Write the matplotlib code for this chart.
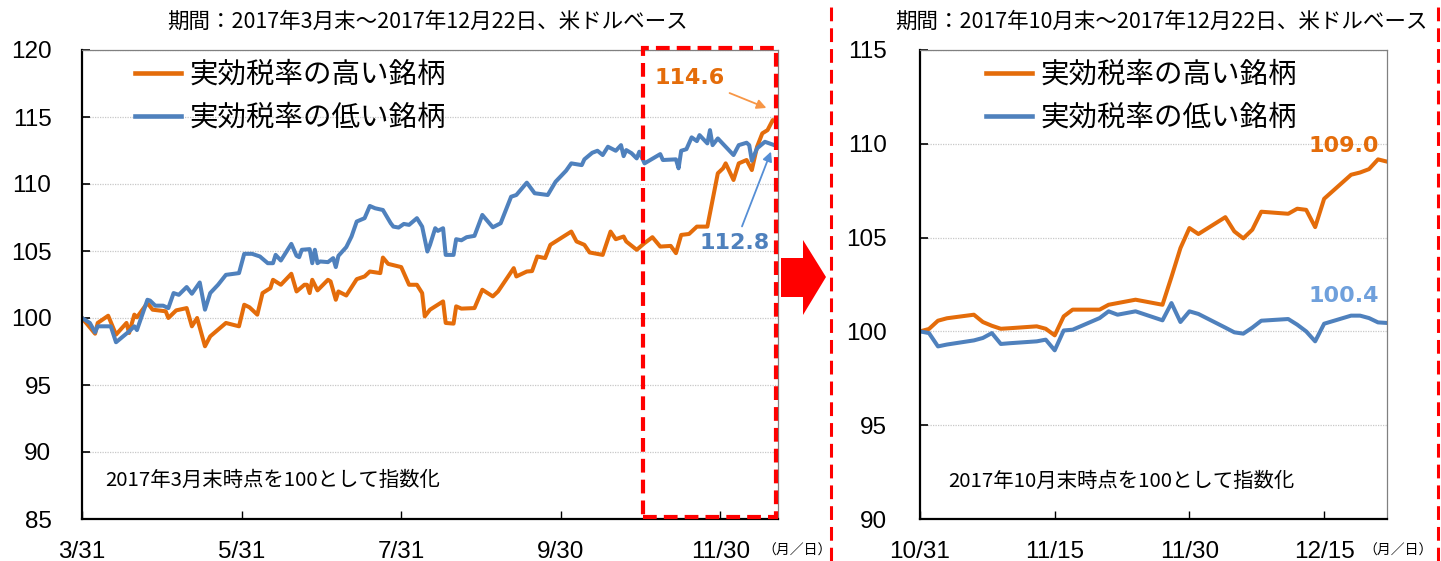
import matplotlib
matplotlib.use('Agg')
import matplotlib.pyplot as plt
import numpy as np
from matplotlib import font_manager
from matplotlib.patches import Rectangle, Polygon, FancyArrowPatch
from matplotlib.lines import Line2D

# ---------------- data ----------------
series_names = ['実効税率の高い銘柄', '実効税率の低い銘柄']

left_high_dates = [
    '2017-03-31', '2017-04-05', '2017-04-06', '2017-04-10', '2017-04-13', '2017-04-17', '2017-04-18',
    '2017-04-20', '2017-04-21', '2017-04-25', '2017-04-27', '2017-05-02', '2017-05-03', '2017-05-06',
    '2017-05-10', '2017-05-12', '2017-05-14', '2017-05-17', '2017-05-19', '2017-05-25', '2017-05-30',
    '2017-06-01', '2017-06-03', '2017-06-06', '2017-06-08', '2017-06-11', '2017-06-12', '2017-06-15',
    '2017-06-19', '2017-06-21', '2017-06-24', '2017-06-25', '2017-06-26', '2017-06-27', '2017-06-29',
    '2017-07-03', '2017-07-04', '2017-07-06', '2017-07-07', '2017-07-10', '2017-07-14', '2017-07-17',
    '2017-07-19', '2017-07-23', '2017-07-24', '2017-07-26', '2017-07-31', '2017-08-03', '2017-08-06',
    '2017-08-08', '2017-08-09', '2017-08-11', '2017-08-16', '2017-08-17', '2017-08-20', '2017-08-21',
    '2017-08-23', '2017-08-28', '2017-08-31', '2017-09-04', '2017-09-06', '2017-09-12', '2017-09-13',
    '2017-09-17', '2017-09-19', '2017-09-21', '2017-09-24', '2017-09-26', '2017-10-01', '2017-10-04',
    '2017-10-06', '2017-10-09', '2017-10-11', '2017-10-16', '2017-10-19', '2017-10-21', '2017-10-24',
    '2017-10-25', '2017-10-29', '2017-11-01', '2017-11-04', '2017-11-07', '2017-11-11', '2017-11-13',
    '2017-11-15', '2017-11-18', '2017-11-21', '2017-11-25', '2017-11-29', '2017-12-01', '2017-12-02',
    '2017-12-05', '2017-12-07', '2017-12-10', '2017-12-12', '2017-12-14', '2017-12-16', '2017-12-18',
    '2017-12-20', '2017-12-22']
left_high_vals = [
    100.0, 98.83, 99.63, 100.17, 98.76, 99.63, 98.88,
    100.25, 100.05, 101.12, 100.62, 100.50, 100.0, 100.57,
    100.74, 99.38, 100.0, 97.89, 98.63, 99.63, 99.38,
    100.99, 100.8, 100.25, 101.86, 102.23, 102.85, 102.48,
    103.30, 101.98, 102.48, 102.48, 101.86, 102.85, 102.06,
    102.85, 102.73, 101.36, 101.98, 101.68, 102.90, 103.1,
    103.47, 103.35, 104.51, 104.04, 103.80, 102.48, 102.48,
    101.86, 100.12, 100.62, 101.24, 99.63, 99.58, 100.87,
    100.7, 100.74, 102.11, 101.61, 101.98, 103.72, 103.10,
    103.47, 103.5, 104.59, 104.47, 105.46, 106.08, 106.45,
    105.71, 105.46, 104.89, 104.71, 106.45, 105.88, 106.08,
    105.71, 105.09, 105.59, 106.03, 105.33, 105.38, 104.84,
    106.2, 106.27, 106.82, 106.82, 110.8, 111.17, 111.54,
    110.30, 111.54, 111.79, 111.04, 112.78, 113.78, 114.02,
    114.77, 114.6]

left_low_dates = [
    '2017-03-31', '2017-04-03', '2017-04-05', '2017-04-06', '2017-04-11', '2017-04-13', '2017-04-18',
    '2017-04-20', '2017-04-21', '2017-04-25', '2017-04-26', '2017-04-28', '2017-05-01', '2017-05-03',
    '2017-05-05', '2017-05-07', '2017-05-10', '2017-05-12', '2017-05-15', '2017-05-17', '2017-05-19',
    '2017-05-22', '2017-05-25', '2017-05-30', '2017-06-01', '2017-06-04', '2017-06-07', '2017-06-10',
    '2017-06-12', '2017-06-13', '2017-06-15', '2017-06-19', '2017-06-21', '2017-06-22', '2017-06-23',
    '2017-06-26', '2017-06-27', '2017-06-28', '2017-06-29', '2017-06-30', '2017-07-03', '2017-07-05',
    '2017-07-06', '2017-07-07', '2017-07-10', '2017-07-12', '2017-07-14', '2017-07-17', '2017-07-19',
    '2017-07-21', '2017-07-24', '2017-07-27', '2017-07-28', '2017-07-30', '2017-08-01', '2017-08-03',
    '2017-08-06', '2017-08-08', '2017-08-10', '2017-08-11', '2017-08-13', '2017-08-14', '2017-08-16',
    '2017-08-17', '2017-08-20', '2017-08-21', '2017-08-23', '2017-08-25', '2017-08-28', '2017-08-31',
    '2017-09-04', '2017-09-07', '2017-09-11', '2017-09-13', '2017-09-17', '2017-09-20', '2017-09-25',
    '2017-09-28', '2017-10-02', '2017-10-04', '2017-10-08', '2017-10-09', '2017-10-12', '2017-10-14',
    '2017-10-16', '2017-10-18', '2017-10-21', '2017-10-23', '2017-10-24', '2017-10-25', '2017-10-27',
    '2017-10-29', '2017-10-30', '2017-11-01', '2017-11-07', '2017-11-08', '2017-11-13', '2017-11-14',
    '2017-11-15', '2017-11-17', '2017-11-19', '2017-11-21', '2017-11-22', '2017-11-25', '2017-11-26',
    '2017-11-27', '2017-11-29', '2017-12-05', '2017-12-07', '2017-12-10', '2017-12-11', '2017-12-12',
    '2017-12-14', '2017-12-17', '2017-12-22']
left_low_vals = [
    100.0, 99.63, 98.93, 99.38, 99.38, 98.19, 99.0,
    99.38, 99.1, 101.36, 101.3, 100.92, 100.92, 100.74,
    101.86, 101.73, 102.31, 101.81, 102.65, 100.62, 101.86,
    102.48, 103.22, 103.35, 104.79, 104.79, 104.59, 104.09,
    104.09, 104.71, 104.29, 105.53, 104.64, 104.54, 105.09,
    105.14, 104.09, 105.09, 104.09, 104.22, 104.17, 104.47,
    103.80, 104.64, 105.29, 106.08, 107.2, 107.45, 108.36,
    108.19, 108.06, 107.07, 106.82, 106.75, 107.02, 106.95,
    107.45, 106.82, 104.96, 105.46, 106.7, 106.5, 106.7,
    104.71, 104.71, 105.88, 105.8, 106.03, 106.13, 107.69,
    106.77, 107.07, 109.05, 109.18, 110.10, 109.31, 109.18,
    110.17, 110.99, 111.54, 111.41, 111.84, 112.33, 112.48,
    112.16, 112.78, 112.48, 112.9, 112.08, 112.53, 112.3,
    111.91, 112.41, 111.54, 112.23, 111.79, 111.84, 111.17,
    112.48, 112.6, 113.48, 113.2, 113.65, 113.03, 114.02,
    112.9, 113.4, 112.16, 112.9, 113.08, 112.9, 111.74,
    112.66, 113.15, 112.8]

right_dates = [
    '2017-10-31', '2017-11-01', '2017-11-02', '2017-11-03', '2017-11-06', '2017-11-07', '2017-11-08',
    '2017-11-09', '2017-11-10', '2017-11-13', '2017-11-14', '2017-11-15', '2017-11-16', '2017-11-17',
    '2017-11-20', '2017-11-21', '2017-11-22', '2017-11-24', '2017-11-27', '2017-11-28', '2017-11-29',
    '2017-11-30', '2017-12-01', '2017-12-04', '2017-12-05', '2017-12-06', '2017-12-07', '2017-12-08',
    '2017-12-11', '2017-12-12', '2017-12-13', '2017-12-14', '2017-12-15', '2017-12-18', '2017-12-19',
    '2017-12-20', '2017-12-21', '2017-12-22']
right_high_vals = [
    100.0, 100.13, 100.57, 100.7, 100.89, 100.50, 100.3,
    100.14, 100.17, 100.27, 100.14, 99.79, 100.80, 101.16,
    101.16, 101.42, 101.51, 101.69, 101.42, 102.9, 104.44,
    105.51, 105.19, 106.09, 105.33, 104.96, 105.42, 106.38,
    106.27, 106.54, 106.48, 105.56, 107.07, 108.35, 108.47,
    108.65, 109.17, 109.05]
right_low_vals = [
    100.0, 99.91, 99.20, 99.3, 99.52, 99.65, 99.91,
    99.33, 99.37, 99.47, 99.56, 98.99, 100.05, 100.09,
    100.71, 101.07, 100.89, 101.07, 100.59, 101.51, 100.50,
    101.07, 100.93, 100.2, 99.95, 99.88, 100.2, 100.57,
    100.66, 100.36, 100.0, 99.47, 100.41, 100.84, 100.84,
    100.71, 100.48, 100.45]

left_xticks = ['2017-03-31', '2017-05-31', '2017-07-31', '2017-09-30', '2017-11-30']
left_xlabels = ['3/31', '5/31', '7/31', '9/30', '11/30']
right_xticks = ['2017-10-31', '2017-11-15', '2017-11-30', '2017-12-15']
right_xlabels = ['10/31', '11/15', '11/30', '12/15']
left_yticks = [85, 90, 95, 100, 105, 110, 115, 120]
right_yticks = [90, 95, 100, 105, 110, 115]

left_title = '期間：2017年3月末～2017年12月22日、米ドルベース'
right_title = '期間：2017年10月末～2017年12月22日、米ドルベース'
left_note = '2017年3月末時点を100として指数化'
right_note = '2017年10月末時点を100として指数化'
unit_label = '（月／日）'

# ---------------- style ----------------
plt.rcParams['font.family'] = ['Noto Sans CJK JP', 'DejaVu Sans']
names = {f.name for f in font_manager.fontManager.ttflist}
num_font = 'Liberation Sans Narrow' if 'Liberation Sans Narrow' in names else 'Liberation Sans'

ORANGE = '#E46C0A'
BLUE = '#4F81BD'
RED = '#FF0000'

W, H = 1441, 561
fig = plt.figure(figsize=(W / 100, H / 100), dpi=100)


def fx(px):
    return px / W


def fy(py):
    return 1 - py / H


def d(s):
    return np.array(s, dtype='datetime64[D]')


axL = fig.add_axes([fx(82), fy(519), (778 - 82) / W, (519 - 50) / H])
axR = fig.add_axes([fx(920), fy(519), (1387 - 920) / W, (519 - 50) / H])


def style(ax, ylim, yticks, xlim, xticks, xlabels, ypad):
    ax.set_ylim(*ylim)
    ax.set_yticks(yticks)
    ax.set_xlim(d(xlim[0]), d(xlim[1]))
    ax.set_xticks(d(xticks))
    ax.set_xticklabels(xlabels)
    ax.yaxis.grid(True, color='#C8C8C8', linestyle=(0, (1, 1)), linewidth=0.9)
    ax.set_axisbelow(True)
    for s in ['top', 'right']:
        ax.spines[s].set_color('#808080')
        ax.spines[s].set_linewidth(0.9)
    for s in ['left', 'bottom']:
        ax.spines[s].set_color('#000000')
        ax.spines[s].set_linewidth(1.6)
    ax.tick_params(axis='y', direction='in', length=6, width=1.2, pad=ypad)
    ax.tick_params(axis='x', direction='in', length=6, width=1.0, pad=16)
    for lab in ax.get_yticklabels() + ax.get_xticklabels():
        lab.set_fontfamily(num_font)
        lab.set_fontsize(17.5)


LW = 2.9

# left chart
axL.plot(d(left_high_dates), left_high_vals, color=ORANGE, lw=LW, solid_joinstyle='round',
         label=series_names[0])
axL.plot(d(left_low_dates), left_low_vals, color=BLUE, lw=LW, solid_joinstyle='round',
         label=series_names[1])
style(axL, (85, 120), left_yticks, ('2017-03-31', '2017-12-22'), left_xticks, left_xlabels, 22)

# right chart
axR.plot(d(right_dates), right_high_vals, color=ORANGE, lw=LW, solid_joinstyle='round',
         label=series_names[0])
axR.plot(d(right_dates), right_low_vals, color=BLUE, lw=LW, solid_joinstyle='round',
         label=series_names[1])
style(axR, (90, 115), right_yticks, ('2017-10-31', '2017-12-22'), right_xticks, right_xlabels, 24)

for ax, x0 in [(axL, (135 - 82) / 696), (axR, (986 - 920) / 467)]:
    ax.legend(loc='upper left', bbox_to_anchor=(x0, 0.979), frameon=False,
              prop={'family': ['Noto Sans CJK JP', 'DejaVu Sans'], 'size': 20.5},
              handlelength=1.6, handletextpad=0.3, labelspacing=0.46,
              borderpad=0, borderaxespad=0)
    for ln in ax.get_legend().get_lines():
        ln.set_linewidth(3.3)

# titles and notes
fig.text(fx(427), fy(22), left_title, ha='center', va='center', fontsize=15.5)
fig.text(fx(1161), fy(22), right_title, ha='center', va='center', fontsize=15.5)
fig.text(fx(105), fy(480), left_note, ha='left', va='center', fontsize=14.7)
fig.text(fx(948), fy(481), right_note, ha='left', va='center', fontsize=14.7)
fig.text(fx(797), fy(551), unit_label, ha='center', va='center', fontsize=10)
fig.text(fx(1433), fy(551), unit_label, ha='right', va='center', fontsize=10)

# value labels
fig.text(fx(690), fy(78), f'{left_high_vals[-1]:.1f}', ha='center', va='center', fontsize=16,
         fontweight='bold', color=ORANGE, family='DejaVu Sans')
fig.text(fx(735), fy(243), f'{left_low_vals[-1]:.1f}', ha='center', va='center', fontsize=16,
         fontweight='bold', color=BLUE, family='DejaVu Sans')
fig.text(fx(1344), fy(146), f'{right_high_vals[-1]:.1f}', ha='center', va='center', fontsize=16,
         fontweight='bold', color=ORANGE, family='DejaVu Sans')
fig.text(fx(1344), fy(296), f'{np.floor(right_low_vals[-1] * 10) / 10:.1f}', ha='center', va='center',
         fontsize=16, fontweight='bold', color='#6FA0DC', family='DejaVu Sans')

# arrows
fig.patches.append(FancyArrowPatch((fx(727), fy(92)), (fx(769), fy(109)), transform=fig.transFigure,
                                   arrowstyle='-|>', mutation_scale=14, color='#F79646', lw=1.3))
fig.patches.append(FancyArrowPatch((fx(741), fy(229)), (fx(772), fy(149)), transform=fig.transFigure,
                                   arrowstyle='-|>', mutation_scale=14, color='#558ED5', lw=1.3))

# red dashed highlight box on left chart
fig.patches.append(Rectangle((fx(643), fy(517)), (776 - 643) / W, (517 - 48) / H,
                             transform=fig.transFigure, fill=False, edgecolor=RED, lw=3.0,
                             linestyle=(0, (3.3, 1.7)), zorder=10))

# red vertical dashed separators
for xp in [831, 1438]:
    fig.add_artist(Line2D([fx(xp), fx(xp)], [0, 1], transform=fig.transFigure, color=RED, lw=2.2,
                          linestyle=(0, (4.5, 2.3))))

# red block arrow
arrow_px = [(781, 258), (803, 258), (803, 240), (826, 277), (803, 315), (803, 297), (781, 297)]
fig.patches.append(Polygon([(fx(x), fy(y)) for x, y in arrow_px], closed=True,
                           transform=fig.transFigure, facecolor=RED, edgecolor='none'))

fig.savefig('out.png', dpi=100)
